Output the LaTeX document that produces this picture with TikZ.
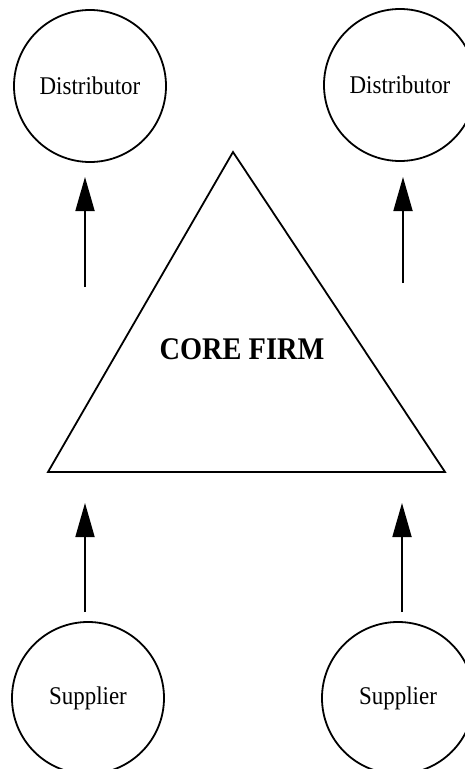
\documentclass[tikz,border=0pt]{standalone}
\usepackage{fontspec}
\setmainfont{Liberation Serif}[FakeStretch=0.9]
\usetikzlibrary{arrows.meta}

\begin{document}
\begin{tikzpicture}[x=1pt, y=-1pt, >={Triangle[length=34pt, width=19pt]},
    party/.style={circle, draw, line width=1.8pt, minimum size=152pt, inner sep=0pt, font=\fontsize{25.5}{28}\selectfont},
    flow/.style={->, line width=1.8pt}]
    \useasboundingbox (0,0) rectangle (465,769);
    \clip (0,0) rectangle (465,769);

    % 分销商与供应商
    \node[party] (distL) at (90,86) {Distributor};
    \node[party] (distR) at (400,85) {Distributor};
    \node[party] (suppL) at (88,698) {Supplier};
    \node[party] (suppR) at (398,698) {Supplier};

    % 核心企业
    \draw[line width=1.8pt] (48,472) -- (445,472) -- (233,152) -- cycle;
    \node[font=\bfseries\fontsize{31.5}{34}\selectfont] (core) at (242,349) {CORE FIRM};

    % 箭头端点
    \coordinate (tlA) at (85,287);  \coordinate (tlB) at (85,177);
    \coordinate (trA) at (403,283); \coordinate (trB) at (403,177);
    \coordinate (blA) at (85,612);  \coordinate (blB) at (85,503);
    \coordinate (brA) at (402,612); \coordinate (brB) at (402,503);

    \draw[flow] (tlA) -- (tlB);
    \draw[flow] (trA) -- (trB);
    \draw[flow] (blA) -- (blB);
    \draw[flow] (brA) -- (brB);
\end{tikzpicture}
\end{document}
